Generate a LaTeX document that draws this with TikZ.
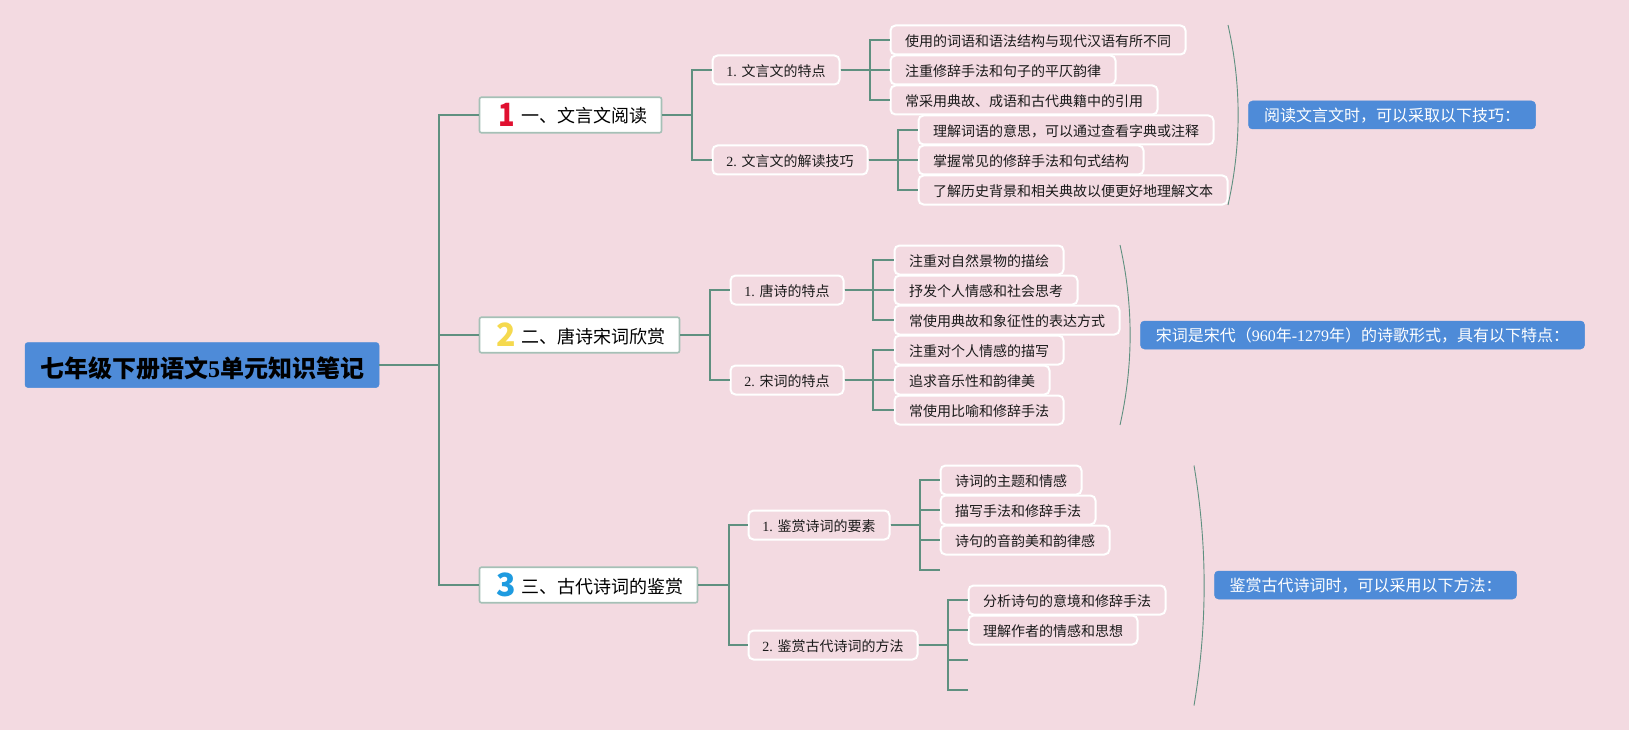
\documentclass[tikz,border=0pt]{standalone}
\usepackage{fontspec}
\usetikzlibrary{calc}
\setmainfont{Noto Sans CJK SC}
\newfontfamily\lat{Liberation Serif}
\definecolor{pagebg}{HTML}{F3DAE1}
\definecolor{rootblue}{HTML}{4E8BD8}
\definecolor{linegreen}{HTML}{5F9080}
\definecolor{boxedge}{HTML}{A5C0B6}
\definecolor{inkdark}{HTML}{1A1A1A}
\definecolor{numred}{HTML}{E01030}
\definecolor{numyellow}{HTML}{F5D94E}
\definecolor{numblue}{HTML}{1E9BE0}
\tikzset{
  x=1pt,y=-1pt,
  rootbox/.style={fill=rootblue,draw=rootblue,rounded corners=3pt,line width=0.5pt,inner sep=0pt,text=black,font=\fontsize{24}{30}\selectfont\bfseries,minimum height=45pt,text height=26pt,text depth=2pt},
  mainbox/.style={fill=white,draw=boxedge,line width=1.6pt,rounded corners=2pt,inner sep=0pt,text=black,font=\fontsize{18}{24}\selectfont,minimum height=35.5pt,text height=18pt,text depth=2pt},
  subbox/.style={fill=pagebg,draw=white,line width=2pt,rounded corners=5pt,inner sep=0pt,text=inkdark,font=\fontsize{14}{16}\selectfont,minimum height=29pt,text height=14pt,text depth=1.4pt},
  leafbox/.style={fill=pagebg,draw=white,line width=2pt,rounded corners=5pt,inner sep=0pt,text=inkdark,font=\fontsize{14}{16}\selectfont,minimum height=29pt,text height=14pt,text depth=1.4pt},
  notebox/.style={fill=rootblue,draw=rootblue,rounded corners=4pt,line width=0.5pt,inner sep=0pt,text=white,font=\fontsize{16}{20}\selectfont,minimum height=28pt,text height=16pt,text depth=2.2pt},
  numlabel/.style={inner sep=0pt,font=\fontsize{32}{36}\selectfont\bfseries},
  conn/.style={draw=linegreen,line width=2pt},
  brace/.style={draw=linegreen,line width=0.9pt},
}
\newcommand{\bx}[6]{% style, name, x1, x2, yc, text
  \pgfmathsetmacro{\cxv}{(#3+#4)/2}\pgfmathsetmacro{\wv}{#4-#3-1}
  \node[#1,minimum width=\wv pt] (#2) at (\cxv,#5) {#6};}
\begin{document}
\begin{tikzpicture}
\fill[pagebg] (0,0) rectangle (1629,730);
\useasboundingbox (0,0) rectangle (1629,730);

% trunks
\coordinate (t0) at (439,0);
\coordinate (t1) at (692,0);
\coordinate (t2) at (710,0);
\coordinate (t3) at (728.6,0);
\coordinate (t11) at (870,0);
\coordinate (t12) at (898,0);
\coordinate (t21) at (873.3,0);
\coordinate (t22) at (873.3,0);
\coordinate (t31) at (920,0);
\coordinate (t32) at (948,0);

% nodes
\bx{rootbox}{root}{24.5}{379.5}{365}{七年级下册语文{\lat\bfseries 5}单元知识笔记}

\bx{mainbox}{m1}{479}{662}{115}{\hspace*{27pt}一、文言文阅读}
\bx{mainbox}{m2}{479}{680}{335}{\hspace*{27pt}二、唐诗宋词欣赏}
\bx{mainbox}{m3}{479}{698}{585}{\hspace*{27pt}三、古代诗词的鉴赏}
\node[numlabel,text=numred,xscale=0.85] (n1) at (507,115) {1};
\node[numlabel,text=numyellow] (n2) at (506,335) {2};
\node[numlabel,text=numblue] (n3) at (506,585) {3};

\bx{subbox}{s11}{712}{840}{70}{{\lat 1. }文言文的特点}
\bx{subbox}{s12}{712}{868}{160}{{\lat 2. }文言文的解读技巧}
\bx{subbox}{s21}{730}{844}{290}{{\lat 1. }唐诗的特点}
\bx{subbox}{s22}{730}{844}{380}{{\lat 2. }宋词的特点}
\bx{subbox}{s31}{748}{890}{525}{{\lat 1. }鉴赏诗词的要素}
\bx{subbox}{s32}{748}{918}{645}{{\lat 2. }鉴赏古代诗词的方法}

\bx{leafbox}{a1}{890}{1186}{40}{使用的词语和语法结构与现代汉语有所不同}
\bx{leafbox}{a2}{890}{1116}{70}{注重修辞手法和句子的平仄韵律}
\bx{leafbox}{a3}{890}{1158}{100}{常采用典故、成语和古代典籍中的引用}
\bx{leafbox}{b1}{918}{1214}{130}{理解词语的意思，可以通过查看字典或注释}
\bx{leafbox}{b2}{918}{1144}{160}{掌握常见的修辞手法和句式结构}
\bx{leafbox}{b3}{918}{1228}{190}{了解历史背景和相关典故以便更好地理解文本}

\bx{leafbox}{c1}{894}{1064}{260}{注重对自然景物的描绘}
\bx{leafbox}{c2}{894}{1078}{290}{抒发个人情感和社会思考}
\bx{leafbox}{c3}{894}{1120}{320}{常使用典故和象征性的表达方式}
\bx{leafbox}{d1}{894}{1064}{350}{注重对个人情感的描写}
\bx{leafbox}{d2}{894}{1050}{380}{追求音乐性和韵律美}
\bx{leafbox}{d3}{894}{1064}{410}{常使用比喻和修辞手法}

\bx{leafbox}{e1}{940}{1082}{480}{诗词的主题和情感}
\bx{leafbox}{e2}{940}{1096}{510}{描写手法和修辞手法}
\bx{leafbox}{e3}{940}{1110}{540}{诗句的音韵美和韵律感}
\coordinate (e4) at (940,570);
\bx{leafbox}{f1}{968}{1166}{600}{分析诗句的意境和修辞手法}
\bx{leafbox}{f2}{968}{1138}{630}{理解作者的情感和思想}
\coordinate (f3) at (968,660);
\coordinate (f4) at (968,690);

\bx{notebox}{note1}{1248}{1536}{115}{阅读文言文时，可以采取以下技巧：}
\bx{notebox}{note2}{1140}{1585}{335}{宋词是宋代（{\lat 960}年{\lat -1279}年）的诗歌形式，具有以下特点：}
\bx{notebox}{note3}{1214}{1517}{585}{鉴赏古代诗词时，可以采用以下方法：}

% connectors
\foreach \p/\t/\c in {root/t0/m1,root/t0/m2,root/t0/m3,
  m1/t1/s11,m1/t1/s12,m2/t2/s21,m2/t2/s22,m3/t3/s31,m3/t3/s32}{
  \draw[conn] (\p.east) -- (\p.east -| \t) |- (\c.west);
}
\foreach \p/\t/\c in {s11/t11/a1,s11/t11/a2,s11/t11/a3,s12/t12/b1,s12/t12/b2,s12/t12/b3,
  s21/t21/c1,s21/t21/c2,s21/t21/c3,s22/t22/d1,s22/t22/d2,s22/t22/d3,
  s31/t31/e1,s31/t31/e2,s31/t31/e3,s32/t32/f1,s32/t32/f2}{
  \draw[conn] (\p.east) -- (\p.east -| \t) |- (\c.west);
}
\draw[conn] (s31.east -| t31) |- (e4);
\draw[conn] (s32.east -| t32) |- (f3);
\draw[conn] (s32.east -| t32) |- (f4);

% braces
\coordinate (g1a) at (1228,25);\coordinate (g1b) at (1228,205);
\coordinate (g2a) at (1120,245);\coordinate (g2b) at (1120,425);
\coordinate (g3a) at (1194,465.5);\coordinate (g3b) at (1194,705.5);
\draw[brace] (g1a) .. controls ($(g1a)+(13.5,60)$) and ($(g1b)+(13.5,-60)$) .. (g1b);
\draw[brace] (g2a) .. controls ($(g2a)+(13.5,60)$) and ($(g2b)+(13.5,-60)$) .. (g2b);
\draw[brace] (g3a) .. controls ($(g3a)+(13.5,80)$) and ($(g3b)+(13.5,-80)$) .. (g3b);
\end{tikzpicture}
\end{document}
